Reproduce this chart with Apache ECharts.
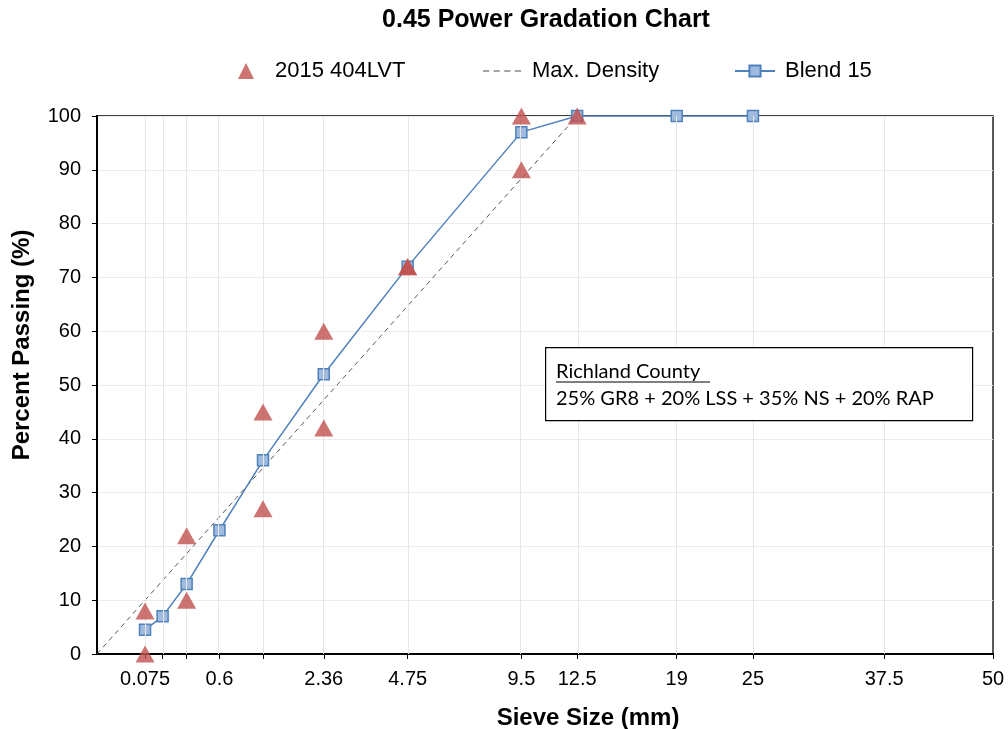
<!DOCTYPE html>
<html><head><meta charset="utf-8">
<script src="https://cdn.jsdelivr.net/npm/echarts@6/dist/echarts.min.js"></script>
<style>html,body{margin:0;padding:0;background:#fff}#c{width:1008px;height:729px}</style>
</head><body><div id="c"></div>
<script>
// ---- data ----
const POWER = 0.45;
const gridSieves = [0.075, 0.15, 0.3, 0.6, 1.18, 2.36, 4.75, 9.5, 12.5, 19, 25, 37.5];
const tickSieves = [0.075, 0.15, 0.3, 0.6, 1.18, 2.36, 4.75, 9.5, 12.5, 19, 25, 37.5, 50];
const labelSieves = [0.075, 0.6, 2.36, 4.75, 9.5, 12.5, 19, 25, 37.5, 50];
const maxSieve = 50;

const specSieves = [0.075, 0.075, 0.3, 0.3, 1.18, 1.18, 2.36, 2.36, 4.75, 4.75, 9.5, 9.5, 12.5];
const specValues = [8, 0, 22, 10, 45, 27, 60, 42, 72, 72, 100, 90, 100];

const mdSieves = [0, 12.5];
const mdValues = [0, 100];

const blendSieves = [0.075, 0.15, 0.3, 0.6, 1.18, 2.36, 4.75, 9.5, 12.5, 19, 25];
const blendValues = [4.5, 7, 13, 23, 36, 52, 72, 97, 100, 100, 100];

// ---- helpers ----
const T = s => Math.pow(s, POWER);
const pairs = (xs, ys) => xs.map((x, i) => [T(x), ys[i]]);
const labelFor = v => {
  let best = labelSieves[0], bd = Infinity;
  labelSieves.forEach(s => { const d = Math.abs(T(s) - v); if (d < bd) { bd = d; best = s; } });
  return String(best);
};
const FONT = '"Liberation Sans", Arial, sans-serif';
const BOXFONT = '20px Lato, "Open Sans", sans-serif';
const DASH_ICON = 'path://M0,0h7v1.3h-7z M12,0h7v1.3h-7z M24,0h7v1.3h-7z M36,0h7v1.3h-7z';

const chart = echarts.init(document.getElementById('c'));
chart.setOption({
  animation: false,
  backgroundColor: '#fff',
  title: {
    text: '0.45 Power Gradation Chart',
    left: 541, top: 3, textAlign: 'center',
    textStyle: { fontFamily: FONT, fontSize: 25, fontWeight: 'bold', color: '#000' }
  },
  legend: [
    { data: ['2015 404LVT'], left: 238, top: 60, padding: 0, itemWidth: 16, itemHeight: 16,
      textStyle: { fontFamily: FONT, fontSize: 22, color: '#000', padding: [0, 0, 0, 16] } },
    { data: [{ name: 'Max. Density', icon: DASH_ICON, itemStyle: { color: '#4d4d4d' } }],
      left: 483, top: 60, padding: 0, itemWidth: 38, itemHeight: 14,
      textStyle: { fontFamily: FONT, fontSize: 22, color: '#000', padding: [0, 0, 0, 6] } },
    { data: ['Blend 15'], left: 734, top: 60, padding: 0, itemWidth: 40, itemHeight: 14,
      textStyle: { fontFamily: FONT, fontSize: 22, color: '#000', padding: [0, 0, 0, 5] } }
  ],
  grid: { left: 97, right: 15, top: 116, bottom: 75, outerBoundsMode: 'none', containLabel: false,
    show: true, borderColor: '#000', borderWidth: 1.3 },
  xAxis: {
    type: 'value', min: 0, max: T(maxSieve),
    name: 'Sieve Size (mm)', nameLocation: 'middle', nameGap: 52,
    nameTextStyle: { fontFamily: FONT, fontSize: 24, fontWeight: 'bold', color: '#000', padding: [0, 0, 0, 86] },
    axisLine: { show: true, onZero: false, lineStyle: { color: '#000', width: 2 } },
    axisTick: { show: true, length: 5, lineStyle: { color: '#000' }, customValues: tickSieves.map(T) },
    axisLabel: { show: true, fontFamily: FONT, fontSize: 20, color: '#000', margin: 15,
      customValues: labelSieves.map(T), formatter: v => labelFor(v) },
    splitLine: { show: false }
  },
  yAxis: {
    type: 'value', min: 0, max: 100, interval: 10,
    name: 'Percent Passing (%)', nameLocation: 'middle', nameGap: 63,
    nameTextStyle: { fontFamily: FONT, fontSize: 24, fontWeight: 'bold', color: '#000', padding: [0, 0, 0, 80] },
    axisLine: { show: true, lineStyle: { color: '#000', width: 2 } },
    axisTick: { show: true, length: 5, lineStyle: { color: '#000' } },
    axisLabel: { fontFamily: FONT, fontSize: 20, color: '#000', margin: 16 },
    splitLine: { show: true, lineStyle: { color: '#ececec', width: 1 } }
  },
  series: [
    {
      name: 'grid', type: 'line', data: [], silent: true, legendHoverLink: false,
      markLine: {
        silent: true, symbol: ['none', 'none'], label: { show: false },
        lineStyle: { color: '#e6e6e6', type: 'solid', width: 1 },
        data: gridSieves.map(s => ({ xAxis: T(s) }))
      }
    },
    {
      name: 'Max. Density', type: 'line', data: pairs(mdSieves, mdValues),
      showSymbol: false, symbol: 'none', z: 3,
      lineStyle: { color: '#595959', width: 1, type: [5, 4] },
      itemStyle: { color: '#595959' }
    },
    {
      name: 'Blend 15', type: 'line', data: pairs(blendSieves, blendValues),
      symbol: 'rect', symbolSize: 11, z: 4,
      lineStyle: { color: '#4F81BD', width: 1.5 },
      itemStyle: { color: '#A0BBDD', borderColor: '#4F81BD', borderWidth: 1.5 }
    },
    {
      name: '2015 404LVT', type: 'scatter', data: pairs(specSieves, specValues),
      symbol: 'triangle', symbolSize: [19, 17], z: 5,
      itemStyle: { color: '#C0504D' }
    }
  ],
  graphic: [
    { type: 'rect', left: 545, top: 347, shape: { width: 427, height: 73 },
      style: { fill: '#fff', stroke: '#000', lineWidth: 1.2 }, z: 10 },
    { type: 'text', left: 556, top: 362, z: 11,
      style: { text: 'Richland County', font: BOXFONT, fill: '#000' } },
    { type: 'line', z: 11, shape: { x1: 556, y1: 382, x2: 710, y2: 382 },
      style: { stroke: '#000', lineWidth: 1 } },
    { type: 'text', left: 556, top: 389, z: 11,
      style: { text: '25% GR8 + 20% LSS + 35% NS + 20% RAP', font: BOXFONT, fill: '#000' } }
  ]
});
</script></body></html>
